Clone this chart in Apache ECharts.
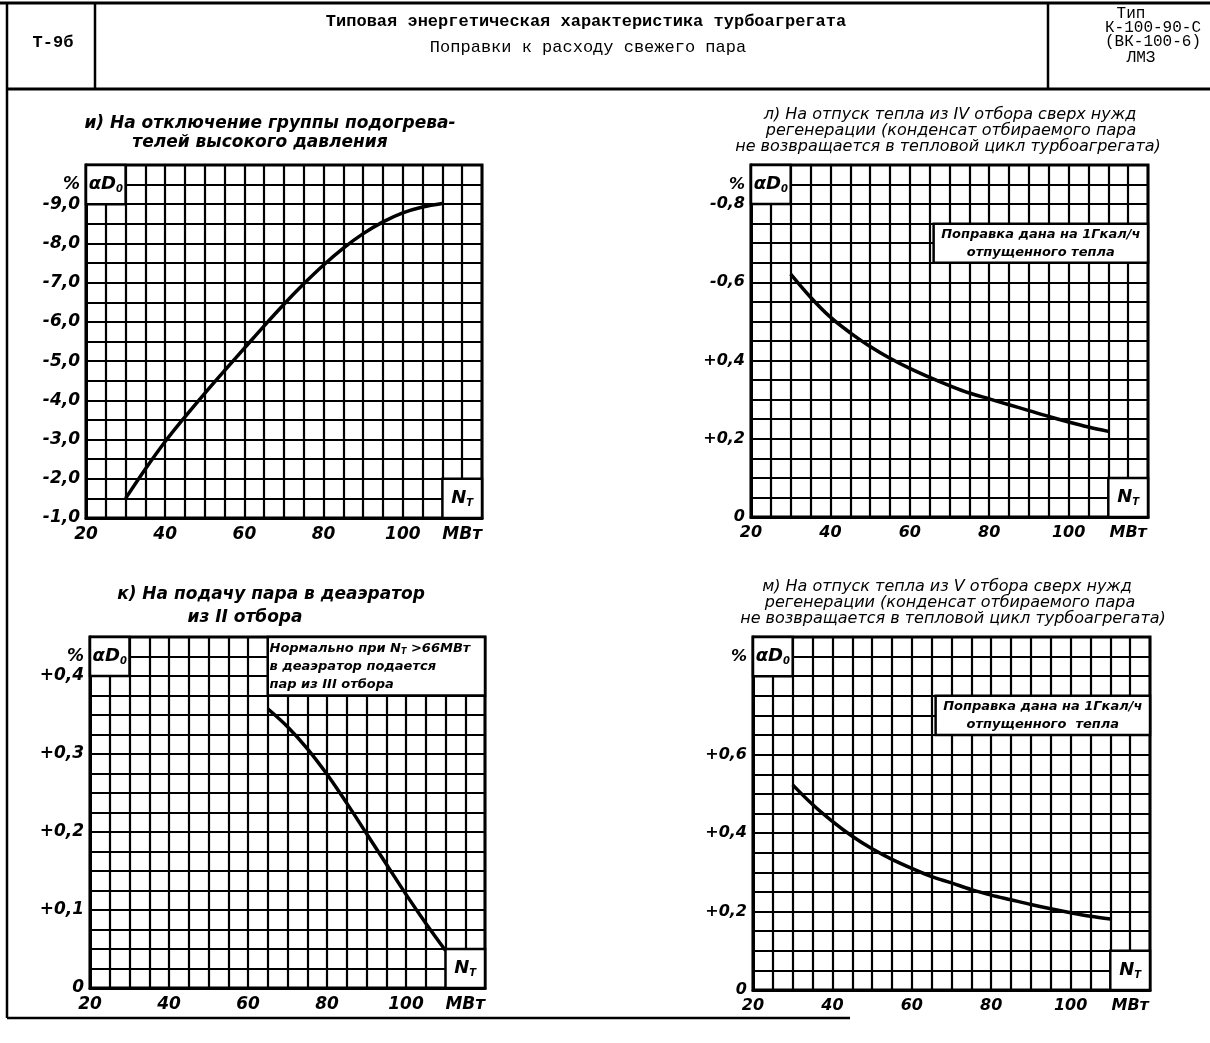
<!DOCTYPE html>
<html><head><meta charset="utf-8">
<script src="https://cdn.jsdelivr.net/npm/echarts/dist/echarts.min.js"></script>
<style>html,body{margin:0;padding:0;background:#fff}#c{width:1210px;height:1043px}</style>
</head><body><div id="c"></div>
<script>
// ---- shared x axis ----
const xTickValues = [20, 40, 60, 80, 100];
const xTickLabels = ['20', '40', '60', '80', '100'];
const xUnitLabel = 'МВт';
const xUnitAt = 115;

// ---- и) HP heaters group switched off ----
const xI = [30, 35, 40, 45, 50, 55, 60, 65, 70, 75, 80, 85, 90, 95, 100, 105, 110];
const yI = [-1.5, -2.25, -2.95, -3.58, -4.18, -4.76, -5.33, -5.9, -6.45, -6.97, -7.45, -7.88, -8.25, -8.55, -8.78, -8.93, -9.02];
const yTicksI = [-9, -8, -7, -6, -5, -4, -3, -2, -1];
const yLabelsI = ['-9,0', '-8,0', '-7,0', '-6,0', '-5,0', '-4,0', '-3,0', '-2,0', '-1,0'];

// ---- л) heat from IV extraction ----
const xL = [30, 35, 40, 45, 50, 55, 60, 65, 70, 75, 80, 85, 90, 95, 100, 105, 110];
const yL = [0.621, 0.562, 0.511, 0.471, 0.436, 0.406, 0.380, 0.357, 0.336, 0.317, 0.302, 0.287, 0.272, 0.257, 0.243, 0.230, 0.219];
const yTicksL = [0, 0.2, 0.4, 0.6, 0.8];
const yLabelsL = ['0', '+0,2', '+0,4', '-0,6', '-0,8'];

// ---- к) steam to deaerator from II extraction ----
const xK = [65, 70, 75, 80, 85, 90, 95, 100, 105, 110];
const yK = [0.358, 0.335, 0.307, 0.274, 0.237, 0.198, 0.159, 0.120, 0.083, 0.048];
const yTicksK = [0, 0.1, 0.2, 0.3, 0.4];
const yLabelsK = ['0', '+0,1', '+0,2', '+0,3', '+0,4'];

// ---- м) heat from V extraction ----
const xM = [30, 35, 40, 45, 50, 55, 60, 65, 70, 75, 80, 85, 90, 95, 100, 105, 110];
const yM = [0.523, 0.473, 0.430, 0.392, 0.360, 0.333, 0.310, 0.289, 0.273, 0.256, 0.242, 0.230, 0.218, 0.207, 0.197, 0.188, 0.181];
const yTicksM = [0, 0.2, 0.4, 0.6];
const yLabelsM = ['0', '+0,2', '+0,4', '+0,6'];

const pctLabel = '%';

function near(a, b) { return Math.abs(a - b) < 1e-6; }
function pairs(xs, ys) { return xs.map((x, i) => [x, ys[i]]); }

const FF = '"DejaVu Sans", sans-serif';

const panels = [
  { grid: { left: 86, top: 165, width: 396, height: 353 }, ymin: -10, ymax: -1, step: 0.5, inverse: true,
    ticks: yTicksI, labels: yLabelsI, pctAt: -9.5, x: xI, y: yI, fs: 17, note: null },
  { grid: { left: 751, top: 165, width: 397, height: 352 }, ymin: 0, ymax: 0.9, step: 0.05, inverse: false,
    ticks: yTicksL, labels: yLabelsL, pctAt: 0.85, x: xL, y: yL, fs: 16,
    note: { x0: 66, x1: 120, y0: 0.75, y1: 0.65, text: 'Поправка дана на 1Гкал/ч\nотпущенного тепла', align: 'center' } },
  { grid: { left: 90, top: 637, width: 395, height: 351 }, ymin: 0, ymax: 0.45, step: 0.025, inverse: false,
    ticks: yTicksK, labels: yLabelsK, pctAt: 0.425, x: xK, y: yK, fs: 17,
    note: { x0: 65, x1: 120, y0: 0.45, y1: 0.375, text: 'Нормально при {n|N}{t|T} >66МВт\nв деаэратор подается\nпар из III отбора', align: 'left' } },
  { grid: { left: 753, top: 637, width: 397, height: 353 }, ymin: 0, ymax: 0.9, step: 0.05, inverse: false,
    ticks: yTicksM, labels: yLabelsM, pctAt: 0.85, x: xM, y: yM, fs: 16,
    note: { x0: 66, x1: 120, y0: 0.75, y1: 0.65, text: 'Поправка дана на 1Гкал/ч\nотпущенного  тепла', align: 'center' } }
];

const grids = [], xAxes = [], yAxes = [], series = [];
panels.forEach((p, i) => {
  grids.push(Object.assign({ show: true, borderColor: '#000', borderWidth: 3, backgroundColor: 'transparent', containLabel: false, outerBoundsMode: 'none' }, p.grid));
  xAxes.push({
    type: 'value', gridIndex: i, min: 20, max: 120, interval: 5,
    axisLine: { show: true, onZero: false, lineStyle: { color: '#000', width: 3 } },
    axisTick: { show: false },
    splitLine: { show: true, lineStyle: { color: '#000', width: 2.2 } },
    axisLabel: {
      show: true, showMinLabel: true, showMaxLabel: true, hideOverlap: false,
      color: '#000', fontFamily: FF, fontStyle: 'italic', fontWeight: 'bold', fontSize: p.fs, margin: 8,
      formatter: v => {
        for (let k = 0; k < xTickValues.length; k++) if (near(v, xTickValues[k])) return xTickLabels[k];
        if (near(v, xUnitAt)) return xUnitLabel;
        return '';
      }
    }
  });
  yAxes.push({
    type: 'value', gridIndex: i, min: p.ymin, max: p.ymax, interval: p.step, inverse: p.inverse,
    axisLine: { show: true, onZero: false, lineStyle: { color: '#000', width: 3 } },
    axisTick: { show: false },
    splitLine: { show: true, lineStyle: { color: '#000', width: 2.2 } },
    axisLabel: {
      show: true, showMinLabel: true, showMaxLabel: true, hideOverlap: false,
      color: '#000', fontFamily: FF, fontStyle: 'italic', fontWeight: 'bold', fontSize: p.fs, margin: 6,
      formatter: v => {
        for (let k = 0; k < p.ticks.length; k++) if (near(v, p.ticks[k])) return p.labels[k];
        if (near(v, p.pctAt)) return pctLabel;
        return '';
      }
    }
  });
  const top = p.inverse ? p.ymin : p.ymax;
  const bottom = p.inverse ? p.ymax : p.ymin;
  const dir = p.inverse ? 1 : -1;
  const boxStyle = { color: '#fff', borderColor: '#000', borderWidth: 2.5 };
  const richSub = {
    a: { fontFamily: FF, fontStyle: 'italic', fontWeight: 'bold', fontSize: 18, color: '#000' },
    b: { fontFamily: FF, fontStyle: 'italic', fontWeight: 'bold', fontSize: 10, color: '#000', padding: [10, 0, 0, 0] },
    n: { fontFamily: FF, fontStyle: 'italic', fontWeight: 'bold', fontSize: 13, color: '#000' },
    t: { fontFamily: FF, fontStyle: 'italic', fontWeight: 'bold', fontSize: 8, color: '#000', padding: [8, 0, 0, 0] }
  };
  const areas = [
    [{ xAxis: 20, yAxis: top, itemStyle: boxStyle,
       label: { show: true, position: 'inside', formatter: '{a|αD}{b|0}', rich: richSub } },
     { xAxis: 30, yAxis: top + dir * 2 * p.step }],
    [{ xAxis: 110, yAxis: bottom - dir * 2 * p.step, itemStyle: boxStyle,
       label: { show: true, position: 'inside', formatter: '{a|N}{b|T}', rich: richSub } },
     { xAxis: 120, yAxis: bottom }]
  ];
  if (p.note) {
    areas.push([{ xAxis: p.note.x0, yAxis: p.note.y0, itemStyle: boxStyle,
      label: { show: true, position: p.note.align === 'left' ? 'insideLeft' : 'inside', distance: 3,
        formatter: p.note.text, align: p.note.align,
        fontFamily: FF, fontStyle: 'italic', fontWeight: 'bold', fontSize: 13, lineHeight: 18, color: '#000',
        rich: richSub } },
      { xAxis: p.note.x1, yAxis: p.note.y1 }]);
  }
  series.push({
    type: 'line', xAxisIndex: i, yAxisIndex: i, data: pairs(p.x, p.y),
    smooth: 0.35, showSymbol: false, symbol: 'none', clip: false, z: 5,
    lineStyle: { color: '#000', width: 3.5 },
    markArea: { silent: true, z: 3, data: areas }
  });
});

function txt(x, y, s, font, align) {
  return { type: 'text', x: x, y: y, silent: true, z: 100,
    style: { text: s, font: font, fill: '#000', align: align || 'center', verticalAlign: 'middle',
             textAlign: align || 'center', textVerticalAlign: 'middle' } };
}
function ln(x1, y1, x2, y2, w) {
  return { type: 'line', silent: true, z: 100, shape: { x1, y1, x2, y2 }, style: { stroke: '#000', lineWidth: w || 2.5 } };
}
const MONO = '"Liberation Mono", "DejaVu Sans Mono", monospace';
const T_B = 'italic bold 17px ' + FF;
const T_N = 'italic 16px ' + FF;

const graphic = [
  ln(0, 3, 1210, 3, 3), ln(6, 89, 1210, 89, 3), ln(7, 3, 7, 1018, 2.5), ln(95, 3, 95, 89, 2.5),
  ln(1048, 3, 1048, 89, 2.5), ln(7, 1018, 850, 1018, 2.5),
  txt(53, 43, 'Т-9б', 'bold 17px ' + MONO),
  txt(586, 22, 'Типовая энергетическая характеристика турбоагрегата', 'bold 17px ' + MONO),
  txt(588, 47, 'Поправки к расходу свежего пара', '17px ' + MONO),
  txt(1131, 14, 'Тип', '16px ' + MONO),
  txt(1153, 28, 'К-100-90-С', '16px ' + MONO),
  txt(1153, 42, '(ВК-100-6)', '16px ' + MONO),
  txt(1141, 58, 'ЛМЗ', '16px ' + MONO),
  txt(270, 124, 'и) На отключение группы подогрева-', T_B),
  txt(260, 143, 'телей высокого давления', T_B),
  txt(950, 115, 'л) На отпуск тепла из IV отбора сверх нужд', T_N),
  txt(951, 131, 'регенерации (конденсат отбираемого пара', T_N),
  txt(948, 147, 'не возвращается в тепловой цикл турбоагрегата)', T_N),
  txt(271, 595, 'к) На подачу пара в деаэратор', T_B),
  txt(245, 618, 'из II отбора', T_B),
  txt(947, 587, 'м) На отпуск тепла из V отбора сверх нужд', T_N),
  txt(950, 603, 'регенерации (конденсат отбираемого пара', T_N),
  txt(953, 619, 'не возвращается в тепловой цикл турбоагрегата)', T_N)
];

const chart = echarts.init(document.getElementById('c'), null, { renderer: 'canvas' });
chart.setOption({
  backgroundColor: '#fff',
  animation: false,
  grid: grids, xAxis: xAxes, yAxis: yAxes, series: series, graphic: graphic
});
</script></body></html>
